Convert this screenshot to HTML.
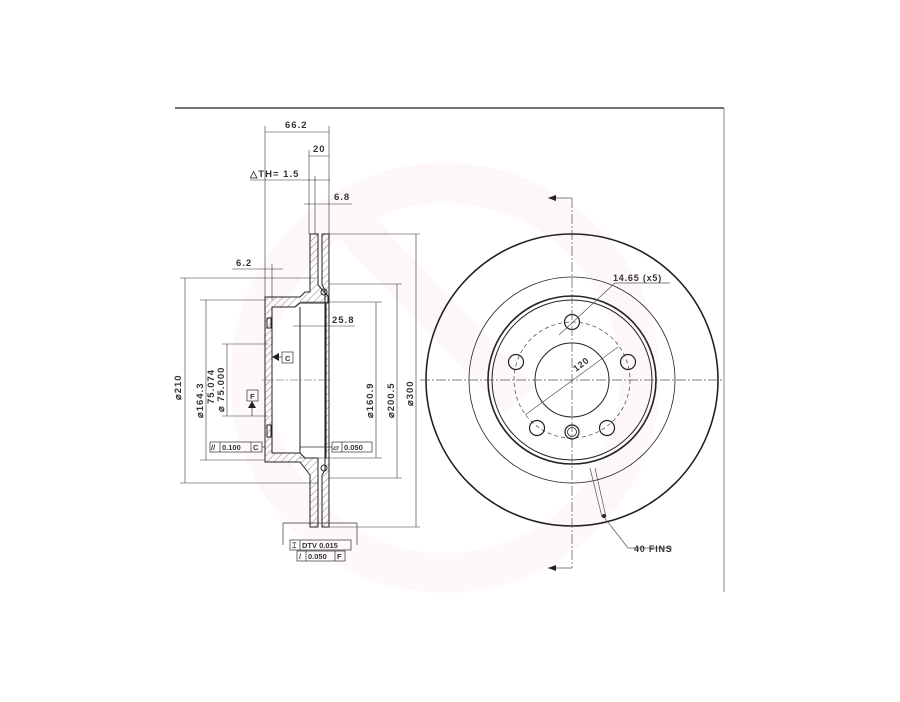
<!DOCTYPE html>
<html><head><meta charset="utf-8"><style>
html,body{margin:0;padding:0;background:#fff;}
svg{display:block;font-family:"Liberation Sans",sans-serif;}
</style></head><body>
<svg width="900" height="702" viewBox="0 0 900 702" xmlns="http://www.w3.org/2000/svg">
<defs>
<pattern id="h" width="5" height="5" patternUnits="userSpaceOnUse" patternTransform="rotate(45)">
<line x1="0" y1="0" x2="0" y2="5" stroke="#555" stroke-width="0.7"/></pattern>
</defs>
<g fill="none" stroke="#e63a3a" opacity="0.035">
<circle cx="445" cy="378" r="195" stroke-width="40"/>
<path d="M330 200 L520 400" stroke-width="40"/>
</g>
<line x1="175" y1="108" x2="724" y2="108" stroke="#444" stroke-width="1.5"/>
<line x1="724" y1="108" x2="724" y2="592" stroke="#888" stroke-width="1"/>

<g stroke="#333" fill="none" stroke-width="0.6">
<line x1="265" y1="132" x2="329" y2="132"/>
<line x1="265" y1="126" x2="265" y2="300"/>
<line x1="329" y1="126" x2="329" y2="234"/>
<line x1="309" y1="156" x2="329" y2="156"/>
<line x1="309" y1="150" x2="309" y2="234"/>
<line x1="250" y1="180" x2="330" y2="180"/>
<line x1="315" y1="176" x2="315" y2="234"/>
<line x1="304" y1="204" x2="352" y2="204"/>
<line x1="232" y1="269" x2="283" y2="269"/>
<line x1="272" y1="264" x2="272" y2="300"/>
<line x1="180" y1="278" x2="315" y2="278"/>
<line x1="180" y1="483" x2="318" y2="483"/>
<line x1="185" y1="278" x2="185" y2="483"/>
<line x1="200" y1="300" x2="265" y2="300"/>
<line x1="200" y1="460" x2="265" y2="460"/>
<line x1="206" y1="300" x2="206" y2="460"/>
<line x1="222" y1="344" x2="268" y2="344"/>
<line x1="222" y1="416" x2="268" y2="416"/>
<line x1="227" y1="344" x2="227" y2="416"/>
<line x1="300" y1="302" x2="382" y2="302"/>
<line x1="300" y1="458" x2="382" y2="458"/>
<line x1="376" y1="302" x2="376" y2="458"/>
<line x1="329" y1="284" x2="402" y2="284"/>
<line x1="329" y1="478" x2="402" y2="478"/>
<line x1="397" y1="284" x2="397" y2="478"/>
<line x1="329" y1="234" x2="420" y2="234"/>
<line x1="329" y1="527" x2="420" y2="527"/>
<line x1="416" y1="234" x2="416" y2="527"/>
<line x1="293" y1="326" x2="355" y2="326"/>
</g>
<g fill="#333" font-size="9.5" font-weight="bold" letter-spacing="1">
<text x="285" y="128">66.2</text>
<text x="313" y="152">20</text>
<text x="250" y="177">△TH= 1.5</text>
<text x="334" y="200">6.8</text>
<text x="236" y="266">6.2</text>
<text x="332" y="323">25.8</text>
<text transform="translate(181,400) rotate(-90)">⌀210</text>
<text transform="translate(203,418) rotate(-90)">⌀164.3</text>
<text transform="translate(214,404) rotate(-90)">75.074</text>
<text transform="translate(224,412) rotate(-90)">⌀ 75.000</text>
<text transform="translate(373,418) rotate(-90)">⌀160.9</text>
<text transform="translate(394,418) rotate(-90)">⌀200.5</text>
<text transform="translate(413,406) rotate(-90)">⌀300</text>
</g>
<g stroke="#222" stroke-width="1">
<path d="M310 234 L318 234 L318 285 L328 296 L328 303 L300 303 L295 307 L272 307 L272 453 L300 453 L305 458 L318 458 L318 527 L310 527 L310 475 L300 462 L265 462 L265 297 L300 297 L305 292 L310 292 Z" fill="url(#h)"/>
<path d="M322 234 L329 234 L329 527 L322 527 L322 475 L325 470 L325 290 L322 285 Z" fill="url(#h)"/>
<line x1="300" y1="307" x2="300" y2="453"/>
<line x1="326" y1="303" x2="326" y2="458"/>
<circle cx="324" cy="292" r="3" fill="none"/>
<circle cx="324" cy="468" r="3" fill="none"/>
<rect x="267" y="318" width="4" height="10" fill="none"/>
<rect x="267" y="425" width="4" height="12" fill="none"/>
</g>
<line x1="262" y1="380" x2="332" y2="380" stroke="#555" stroke-width="0.6" stroke-dasharray="8,2,2,2"/>
<g stroke="#333" fill="none" stroke-width="0.7">
<rect x="282" y="352" width="11" height="11"/>
<line x1="272" y1="357" x2="282" y2="357"/>
<rect x="247" y="390" width="11" height="11"/>
<line x1="252" y1="401" x2="252" y2="416"/>
<rect x="210" y="442" width="52" height="10"/>
<line x1="220" y1="442" x2="220" y2="452"/><line x1="251" y1="442" x2="251" y2="452"/>
<line x1="262" y1="447" x2="265" y2="447"/>
<rect x="332" y="442" width="40" height="10"/>
<line x1="342" y1="442" x2="342" y2="452"/>
<line x1="300" y1="447" x2="332" y2="447"/>
<rect x="290" y="540" width="61" height="10"/>
<line x1="300" y1="540" x2="300" y2="550"/>
<rect x="297" y="551" width="48" height="10"/>
<line x1="306" y1="551" x2="306" y2="561"/><line x1="335" y1="551" x2="335" y2="561"/>
<line x1="283" y1="523" x2="283" y2="545"/><line x1="283" y1="523" x2="357" y2="523"/><line x1="357" y1="523" x2="357" y2="545"/>
</g>
<path d="M272 357 L279 353 L279 361 Z M252 401 L248 408 L256 408 Z" fill="#222"/>
<g fill="#333" font-size="7.5" font-weight="bold">
<text x="285" y="361">C</text>
<text x="250" y="399">F</text>
<text x="211" y="450">//</text>
<text x="222" y="450">0.100</text>
<text x="253" y="450">C</text>
<text x="333" y="450">▱</text>
<text x="344" y="450">0.050</text>
<text x="292" y="548">⌶</text>
<text x="302" y="548">DTV 0.015</text>
<text x="299" y="559">/</text>
<text x="308" y="559">0.050</text>
<text x="337" y="559">F</text>
</g>

<g fill="none" stroke="#222">
<circle cx="572" cy="380" r="146" stroke-width="1.6"/>
<circle cx="572" cy="380" r="103" stroke-width="0.8"/>
<circle cx="572" cy="380" r="84" stroke-width="1.6"/>
<circle cx="572" cy="380" r="80" stroke-width="1"/>
<circle cx="572" cy="380" r="58" stroke-width="0.6" stroke-dasharray="4,3"/>
<circle cx="572" cy="380" r="37" stroke-width="1"/>
<circle cx="572" cy="322" r="7.5" stroke-width="1.2"/>
<circle cx="516" cy="362" r="7.5" stroke-width="1.2"/>
<circle cx="628" cy="362" r="7.5" stroke-width="1.2"/>
<circle cx="537" cy="428" r="7.5" stroke-width="1.2"/>
<circle cx="607" cy="428" r="7.5" stroke-width="1.2"/>
<circle cx="572" cy="432" r="7" stroke-width="1.2"/>
<circle cx="572" cy="432" r="4.5" stroke-width="0.8"/>
</g>
<g stroke="#555" stroke-width="0.7" fill="none">
<line x1="572" y1="198" x2="572" y2="568" stroke-dasharray="10,2,2,2"/>
<line x1="420" y1="380" x2="724" y2="380" stroke-dasharray="10,2,2,2"/>
<path d="M548 198 L572 198 M548 568 L572 568"/>
<line x1="525" y1="415" x2="618" y2="347"/>
<line x1="559" y1="335" x2="615" y2="283"/>
<line x1="615" y1="283" x2="670" y2="283"/>
<line x1="590" y1="468" x2="602" y2="517"/>
<line x1="595" y1="468" x2="606" y2="517"/>
<line x1="604" y1="517" x2="628" y2="548"/>
<line x1="628" y1="548" x2="672" y2="548"/>
</g>
<path d="M548 198 L556 195 L556 201 Z M548 568 L556 565 L556 571 Z" fill="#222"/>
<circle cx="604" cy="516" r="2" fill="#222"/>
<g fill="#333" font-size="9" font-weight="bold" letter-spacing="0.8">
<text x="613" y="281">14.65 (x5)</text>
<text transform="translate(576,372) rotate(-37)">120</text>
<text x="634" y="552">40 FINS</text>
</g>
</svg>
</body></html>
